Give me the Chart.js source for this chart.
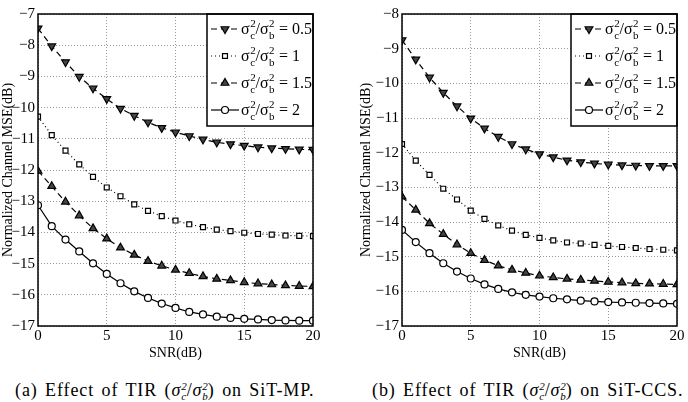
<!DOCTYPE html>
<html>
<head>
<meta charset="utf-8">
<script src="https://cdn.jsdelivr.net/npm/chart.js@4.4.1/dist/chart.umd.min.js"></script>
<style>
  body { margin: 0; background: #fff; width: 688px; height: 402px; position: relative; overflow: hidden; font-family: "Times New Roman", "Liberation Serif", "DejaVu Serif", serif; color: #000; }
  canvas { position: absolute; top: 0; }
  #mpChart { left: 0; }
  #ccsChart { left: 344px; }
  .cap { position: absolute; top: 380px; font-size: 18px; letter-spacing: 0.9px; word-spacing: 2px; white-space: nowrap; }
  .ss { display: inline-block; vertical-align: -4px; line-height: 10px; font-size: 11px; font-style: italic; letter-spacing: 0; word-spacing: 0; }
</style>
</head>
<body>
<canvas id="mpChart" width="344" height="362"></canvas>
<canvas id="ccsChart" width="344" height="362"></canvas>
<div class="cap" style="left:15px">(a) Effect of TIR (<i>σ</i><span class="ss">2<br>c</span>/<i>σ</i><span class="ss">2<br>b</span>) on SiT-MP.</div>
<div class="cap" style="left:372px">(b) Effect of TIR (<i>σ</i><span class="ss">2<br>c</span>/<i>σ</i><span class="ss">2<br>b</span>) on SiT-CCS.</div>
<script>
const snr = [0, 1, 2, 3, 4, 5, 6, 7, 8, 9, 10, 11, 12, 13, 14, 15, 16, 17, 18, 19, 20];
const ratios = ["0.5", "1", "1.5", "2"];

// SiT-MP
const mpR05 = [-7.46, -8.03, -8.54, -9.01, -9.38, -9.72, -10.03, -10.26, -10.47, -10.65, -10.79, -10.91, -11.02, -11.11, -11.17, -11.22, -11.27, -11.30, -11.32, -11.34, -11.35];
const mpR1 = [-10.29, -10.88, -11.38, -11.82, -12.22, -12.56, -12.84, -13.10, -13.31, -13.48, -13.62, -13.74, -13.83, -13.91, -13.96, -14.01, -14.05, -14.07, -14.10, -14.11, -14.12];
const mpR15 = [-12.03, -12.52, -13.02, -13.46, -13.87, -14.20, -14.49, -14.72, -14.92, -15.07, -15.20, -15.31, -15.41, -15.49, -15.54, -15.60, -15.64, -15.67, -15.70, -15.72, -15.73];
const mpR2 = [-13.13, -13.80, -14.23, -14.61, -14.99, -15.33, -15.63, -15.89, -16.10, -16.28, -16.42, -16.55, -16.63, -16.70, -16.74, -16.77, -16.79, -16.81, -16.82, -16.83, -16.83];

// SiT-CCS
const ccsR05 = [-8.75, -9.31, -9.83, -10.27, -10.66, -11.01, -11.30, -11.54, -11.75, -11.90, -12.04, -12.13, -12.22, -12.27, -12.31, -12.34, -12.36, -12.37, -12.38, -12.38, -12.38];
const ccsR1 = [-11.75, -12.23, -12.64, -13.04, -13.35, -13.67, -13.91, -14.10, -14.25, -14.37, -14.46, -14.53, -14.59, -14.62, -14.66, -14.69, -14.72, -14.75, -14.78, -14.80, -14.82];
const ccsR15 = [-13.27, -13.65, -14.04, -14.35, -14.65, -14.90, -15.10, -15.26, -15.38, -15.47, -15.55, -15.60, -15.64, -15.67, -15.70, -15.73, -15.75, -15.77, -15.78, -15.79, -15.80];
const ccsR2 = [-14.23, -14.58, -14.90, -15.19, -15.43, -15.63, -15.80, -15.93, -16.03, -16.10, -16.15, -16.20, -16.23, -16.27, -16.29, -16.31, -16.32, -16.33, -16.34, -16.35, -16.36];

const FONT = '"Times New Roman", "Liberation Serif", "DejaVu Serif", serif';
Chart.defaults.font.family = FONT;
Chart.defaults.color = "#000";

// line / marker look per ratio
const looks = [
  { dash: [6, 4], style: "triangle", rot: 180, fill: "#444", r: 4.5 },
  { dash: [1, 3], style: "rect", rot: 0, fill: "#fff", r: 3.5 },
  { dash: [6, 4], style: "triangle", rot: 0, fill: "#444", r: 4.5 },
  { dash: [], style: "circle", rot: 0, fill: "#fff", r: 3.5 },
];

function ratioText(ctx, x, y, val) {
  const parts = [["σ"], ["2", "c"], ["/"], ["σ"], ["2", "b"], [" = " + val]];
  ctx.fillStyle = "#000";
  ctx.textAlign = "left";
  ctx.textBaseline = "alphabetic";
  for (const p of parts) {
    if (p.length === 1) {
      ctx.font = "16px " + FONT;
      ctx.fillText(p[0], x, y);
      x += ctx.measureText(p[0]).width;
    } else {
      ctx.font = "11px " + FONT;
      ctx.fillText(p[0], x + 0.5, y - 7);
      ctx.fillText(p[1], x + 0.5, y + 5);
      x += ctx.measureText(p[1]).width + 1;
    }
  }
}

const framePlugin = {
  id: "frameLegend",
  afterDraw(chart) {
    const ctx = chart.ctx;
    const a = chart.chartArea;
    ctx.save();
    // legend box
    const w = 106, h = 112;
    const lx = a.right - w, ly = a.top;
    ctx.fillStyle = "#fff";
    ctx.fillRect(lx, ly, w, h);
    ctx.strokeStyle = "#000";
    ctx.lineWidth = 1.5;
    ctx.strokeRect(lx, ly, w, h);
    chart.data.datasets.forEach((ds, i) => {
      const lk = looks[i];
      const y = ly + 15 + i * 27;
      ctx.setLineDash(lk.dash);
      ctx.lineWidth = 1.2;
      ctx.beginPath();
      ctx.moveTo(lx + 4, y);
      ctx.lineTo(lx + 32, y);
      ctx.stroke();
      ctx.setLineDash([]);
      ctx.fillStyle = lk.fill;
      Chart.helpers.drawPoint(ctx, { pointStyle: lk.style, rotation: lk.rot, radius: lk.r, borderWidth: 1.2 }, lx + 18, y);
      ratioText(ctx, lx + 34, y + 5, ratios[i]);
    });
    // axes frame
    ctx.setLineDash([]);
    ctx.strokeStyle = "#000";
    ctx.lineWidth = 1.5;
    ctx.strokeRect(a.left, a.top, a.right - a.left, a.bottom - a.top);
    ctx.restore();
  },
};

function makeChart(id, series, yMin, yMax, padLeft, axisW, padRight) {
  const datasets = series.map((vals, i) => ({
    label: ratios[i],
    data: vals,
    borderColor: "#000",
    borderWidth: 1.2,
    borderDash: looks[i].dash,
    pointStyle: looks[i].style,
    rotation: looks[i].rot,
    pointRadius: looks[i].r,
    pointBorderWidth: 1.2,
    pointBackgroundColor: looks[i].fill,
    pointBorderColor: "#000",
    tension: 0,
  }));
  return new Chart(document.getElementById(id), {
    type: "line",
    data: { labels: snr, datasets: datasets },
    options: {
      responsive: false,
      animation: false,
      layout: { padding: { left: padLeft, right: padRight, top: 14, bottom: 0 } },
      plugins: { legend: { display: false }, tooltip: { enabled: false } },
      scales: {
        x: {
          type: "linear",
          min: 0,
          max: 20,
          ticks: { stepSize: 5, font: { size: 15 }, padding: 1 },
          grid: { color: "#999", drawTicks: false },
          border: { display: false, dash: [1, 2] },
          title: { display: true, text: "SNR(dB)", font: { size: 14 }, padding: 0 },
          afterFit: (s) => { s.height = 36; },
        },
        y: {
          min: yMin,
          max: yMax,
          ticks: {
            stepSize: 1,
            font: { size: 15 },
            padding: 3,
            callback: (v) => String(v).replace("-", "\u2212"),
          },
          grid: { color: "#999", drawTicks: false },
          border: { display: false, dash: [1, 2] },
          title: { display: true, text: "Normalized Channel MSE(dB)", font: { size: 14 }, padding: 0 },
          afterFit: (s) => { s.width = axisW; },
        },
      },
    },
    plugins: [framePlugin],
  });
}

makeChart("mpChart", [mpR05, mpR1, mpR15, mpR2], -17, -7, 0, 38, 31);
makeChart("ccsChart", [ccsR05, ccsR1, ccsR15, ccsR2], -17, -8, 14, 44, 11);
</script>
</body>
</html>
